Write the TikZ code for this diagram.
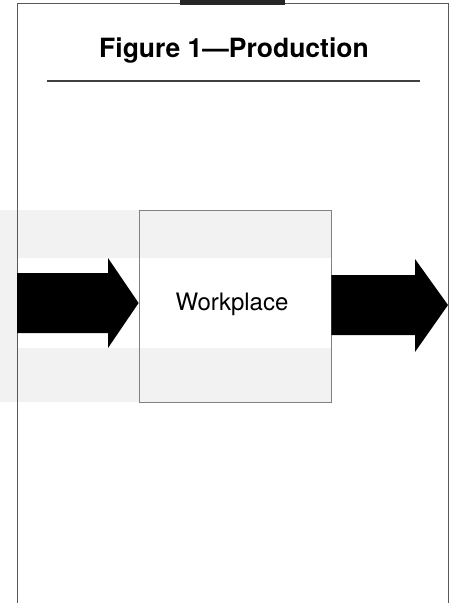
\documentclass[tikz,border=0pt]{standalone}
\usepackage{fontspec}
\setmainfont{TeX Gyre Heros}
\usetikzlibrary{calc}
\tikzset{
  frameline/.style={draw=black!65, line width=0.9pt},
  blockarrow/.style={fill=black},
  wpbox/.style={draw=black!50, line width=0.8pt, minimum width=192pt, minimum height=192pt, inner sep=0pt, font=\fontsize{24}{28}\selectfont}
}
\begin{document}
\begin{tikzpicture}[x=1pt,y=-1pt]
\useasboundingbox (0,0) rectangle (452,603);
% light grey band behind the box
\fill[black!5] (0,210) rectangle (331,402);
\fill[white] (17,258) rectangle (331,348);
% frame
\draw[frameline] (17,603) -- (17,3) -- (448,3) -- (448,603);
\fill[black!85] (180,0) rectangle (285,5);
% title
\node[font=\fontsize{26.5}{31}\selectfont\bfseries, anchor=base] (title) at (234,57) {Figure 1—Production};
\draw[line width=1.1pt, black!75] (47,81) -- (420,81);
% box
\node[wpbox] (wp) at (235,306) {\raisebox{8pt}{Workplace}\hspace*{6pt}};
% arrows
\coordinate (lin) at (17,303);
\fill[blockarrow] (lin |- 0,273) -- (108,273) -- (108,258) -- (wp.west |- 0,303) -- (108,348) -- (108,333) -- (lin |- 0,333) -- cycle;
\coordinate (rout) at (448,305);
\fill[blockarrow] (wp.east |- 0,275) -- (415,275) -- (415,259) -- (rout) -- (415,352) -- (415,335) -- (wp.east |- 0,335) -- cycle;
\end{tikzpicture}
\end{document}
